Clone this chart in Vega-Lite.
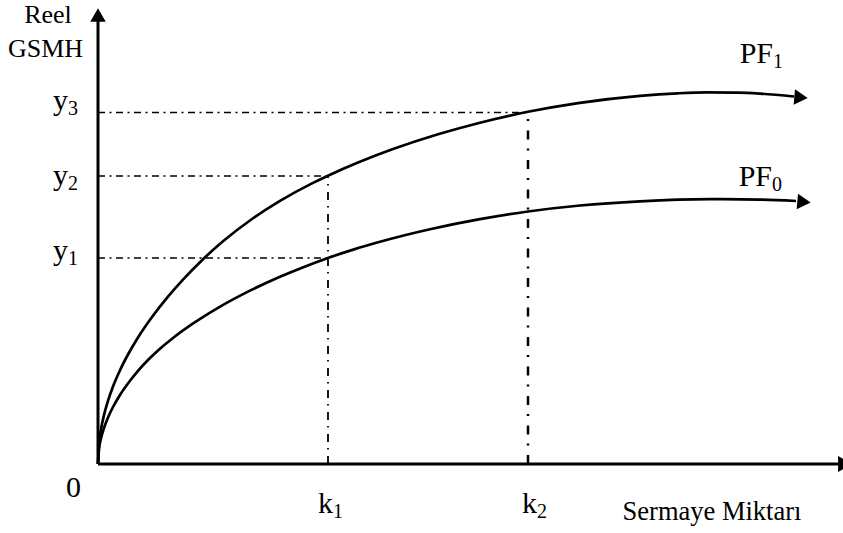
{
  "$schema": "https://vega.github.io/schema/vega-lite/v6.json",
  "width": 843,
  "height": 533,
  "autosize": {"type": "none"},
  "padding": 0,
  "background": "white",
  "config": {"view": {"stroke": null}, "font": "Liberation Serif"},
  "datasets": {
    "curves": [
      {"series": "PF1", "x": 0, "y": 0},
      {"series": "PF1", "x": 1, "y": 20},
      {"series": "PF1", "x": 3, "y": 34.6},
      {"series": "PF1", "x": 6, "y": 49},
      {"series": "PF1", "x": 10, "y": 63.2},
      {"series": "PF1", "x": 15, "y": 77.5},
      {"series": "PF1", "x": 22, "y": 93.8},
      {"series": "PF1", "x": 30, "y": 109.5},
      {"series": "PF1", "x": 40, "y": 126.5},
      {"series": "PF1", "x": 54, "y": 147},
      {"series": "PF1", "x": 70, "y": 167.4},
      {"series": "PF1", "x": 85, "y": 184.4},
      {"series": "PF1", "x": 104, "y": 203.8},
      {"series": "PF1", "x": 125, "y": 222.7},
      {"series": "PF1", "x": 154, "y": 245},
      {"series": "PF1", "x": 182, "y": 263.1},
      {"series": "PF1", "x": 214, "y": 280.6},
      {"series": "PF1", "x": 230, "y": 288.3},
      {"series": "PF1", "x": 260, "y": 301.4},
      {"series": "PF1", "x": 295, "y": 314.9},
      {"series": "PF1", "x": 340, "y": 329.7},
      {"series": "PF1", "x": 380, "y": 340.8},
      {"series": "PF1", "x": 430, "y": 352.2},
      {"series": "PF1", "x": 480, "y": 360.9},
      {"series": "PF1", "x": 542, "y": 368.2},
      {"series": "PF1", "x": 580, "y": 370.7},
      {"series": "PF1", "x": 609, "y": 371.6},
      {"series": "PF1", "x": 640, "y": 371.4},
      {"series": "PF1", "x": 662, "y": 370.4},
      {"series": "PF1", "x": 696, "y": 367.5},
      {"series": "PF0", "x": 0, "y": 0},
      {"series": "PF0", "x": 1, "y": 14.7},
      {"series": "PF0", "x": 3, "y": 25.5},
      {"series": "PF0", "x": 6, "y": 36},
      {"series": "PF0", "x": 10, "y": 46.5},
      {"series": "PF0", "x": 15, "y": 57},
      {"series": "PF0", "x": 22, "y": 69},
      {"series": "PF0", "x": 32, "y": 83.2},
      {"series": "PF0", "x": 40, "y": 93.2},
      {"series": "PF0", "x": 50, "y": 104},
      {"series": "PF0", "x": 60, "y": 113.5},
      {"series": "PF0", "x": 75, "y": 126},
      {"series": "PF0", "x": 94, "y": 139.8},
      {"series": "PF0", "x": 120, "y": 156.2},
      {"series": "PF0", "x": 150, "y": 172.4},
      {"series": "PF0", "x": 182, "y": 187.3},
      {"series": "PF0", "x": 206, "y": 197.1},
      {"series": "PF0", "x": 230, "y": 206},
      {"series": "PF0", "x": 256, "y": 214.6},
      {"series": "PF0", "x": 282, "y": 222.2},
      {"series": "PF0", "x": 332, "y": 234.7},
      {"series": "PF0", "x": 382, "y": 244.8},
      {"series": "PF0", "x": 430, "y": 252.5},
      {"series": "PF0", "x": 482, "y": 258.5},
      {"series": "PF0", "x": 542, "y": 262.7},
      {"series": "PF0", "x": 612, "y": 264.8},
      {"series": "PF0", "x": 662, "y": 264.4},
      {"series": "PF0", "x": 698, "y": 263}
    ],
    "hguides": [
      {"level": "y3", "x": 0, "x2": 430, "y": 351.5},
      {"level": "y2", "x": 0, "x2": 230, "y": 288},
      {"level": "y1", "x": 0, "x2": 230, "y": 206}
    ],
    "k1guide": [{"x": 230, "y": 0, "y2": 288}],
    "k2guide": [{"x": 430, "y": 0, "y2": 351.5}],
    "axes": [
      {"axis": "x", "x": 0, "x2": 741, "y": 0, "y2": 0},
      {"axis": "y", "x": 0, "x2": 0, "y": 0, "y2": 443}
    ],
    "yarrow": [{"x": 0, "y": 449}],
    "xarrow": [{"x": 747, "y": 0}],
    "curvearrows": [
      {"series": "PF1", "x": 703, "y": 366.5},
      {"series": "PF0", "x": 706, "y": 262}
    ],
    "labels": [
      {"main": "y", "sub": "3", "x": -30, "y": 354},
      {"main": "y", "sub": "2", "x": -30, "y": 279},
      {"main": "y", "sub": "1", "x": -30, "y": 204},
      {"main": "k", "sub": "1", "x": 235, "y": -49},
      {"main": "k", "sub": "2", "x": 439, "y": -49},
      {"main": "PF", "sub": "1", "x": 675, "y": 401},
      {"main": "PF", "sub": "0", "x": 674, "y": 278},
      {"main": "0", "sub": "", "x": -17, "y": -33}
    ],
    "titles": [
      {"text": "Reel", "x": -50, "y": 441},
      {"text": "GSMH", "x": -52.5, "y": 407}
    ],
    "xtitle": [{"text": "Sermaye Miktarı", "x": 614, "y": -56}]
  },
  "encoding": {
    "x": {"field": "x", "type": "quantitative", "scale": {"domain": [-98, 745], "nice": false, "zero": false}, "axis": null},
    "y": {"field": "y", "type": "quantitative", "scale": {"domain": [-69, 464], "nice": false, "zero": false}, "axis": null}
  },
  "layer": [
    {
      "data": {"name": "hguides"},
      "mark": {"type": "rule", "color": "black", "strokeWidth": 1.6, "strokeDash": [7, 4.5, 2, 4.5]},
      "encoding": {"x2": {"field": "x2"}}
    },
    {
      "data": {"name": "k1guide"},
      "mark": {"type": "rule", "color": "black", "strokeWidth": 1.8, "strokeDash": [8, 6.5, 1.5, 6]},
      "encoding": {"y2": {"field": "y2"}}
    },
    {
      "data": {"name": "k2guide"},
      "mark": {"type": "rule", "color": "black", "strokeWidth": 2.5, "strokeDash": [9, 9.5, 2, 9]},
      "encoding": {"y2": {"field": "y2"}}
    },
    {
      "data": {"name": "curves"},
      "mark": {"type": "line", "color": "black", "strokeWidth": 2.7, "interpolate": "monotone"},
      "encoding": {"detail": {"field": "series"}}
    },
    {
      "data": {"name": "axes"},
      "mark": {"type": "rule", "color": "black", "strokeWidth": 3},
      "encoding": {"x2": {"field": "x2"}, "y2": {"field": "y2"}}
    },
    {
      "data": {"name": "yarrow"},
      "mark": {"type": "point", "shape": "triangle-up", "filled": true, "color": "black", "opacity": 1, "size": 240, "strokeWidth": 0}
    },
    {
      "data": {"name": "xarrow"},
      "mark": {"type": "point", "shape": "triangle-right", "filled": true, "color": "black", "opacity": 1, "size": 256, "strokeWidth": 0}
    },
    {
      "data": {"name": "curvearrows"},
      "mark": {"type": "point", "shape": "triangle-right", "filled": true, "color": "black", "opacity": 1, "size": 240, "strokeWidth": 0, "angle": 5}
    },
    {
      "data": {"name": "labels"},
      "mark": {"type": "text", "font": "Liberation Serif", "align": "right", "baseline": "alphabetic", "fontSize": 30, "color": "black"},
      "encoding": {"text": {"field": "main"}}
    },
    {
      "data": {"name": "labels"},
      "mark": {"type": "text", "font": "Liberation Serif", "align": "left", "baseline": "alphabetic", "fontSize": 20, "dy": 5, "color": "black"},
      "encoding": {"text": {"field": "sub"}}
    },
    {
      "data": {"name": "titles"},
      "mark": {"type": "text", "font": "Liberation Serif", "align": "center", "baseline": "alphabetic", "fontSize": 26, "color": "black"},
      "encoding": {"text": {"field": "text"}}
    },
    {
      "data": {"name": "xtitle"},
      "mark": {"type": "text", "font": "Liberation Serif", "align": "center", "baseline": "alphabetic", "fontSize": 26.5, "color": "black"},
      "encoding": {"text": {"field": "text"}}
    }
  ]
}
